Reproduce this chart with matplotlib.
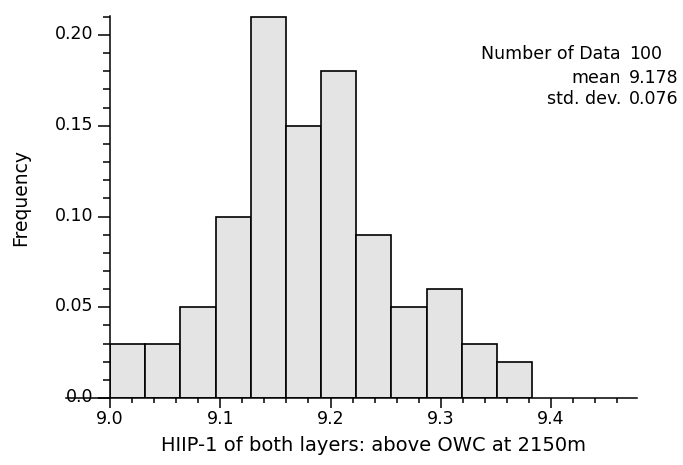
"""
Histogram of HIIP-1 (both layers, above OWC at 2150m) with summary stats.
"""

import numpy as np
import matplotlib
matplotlib.use("Agg")
import matplotlib.pyplot as plt
from matplotlib.ticker import MultipleLocator, FixedLocator, FixedFormatter
from matplotlib.transforms import ScaledTranslation

# histogram data
bin_start = 9.0
bin_width = 0.0319
freqs = [0.03, 0.03, 0.05, 0.10, 0.21, 0.15, 0.18, 0.09, 0.05, 0.06, 0.03, 0.02]

x_ticks = [9.0, 9.1, 9.2, 9.3, 9.4]
x_tick_labels = ["9.0", "9.1", "9.2", "9.3", "9.4"]
y_ticks = [0.0, 0.05, 0.10, 0.15, 0.20]
y_tick_labels = ["0.0", "0.05", "0.10", "0.15", "0.20"]

stat_names = ["Number of Data", "mean", "std. dev."]
stat_values = ["100", "9.178", "0.076"]

plt.rcParams["font.family"] = ["DejaVu Sans"]

W, H = 683, 465
fig = plt.figure(figsize=(W / 100, H / 100), dpi=100)
ax = fig.add_axes([110 / W, 1 - 398 / H, (637 - 110) / W, (398 - 16) / H])

edges = bin_start + bin_width * np.arange(len(freqs) + 1)
ax.bar(edges[:-1], freqs, width=bin_width, align="edge",
       color="#e4e4e4", edgecolor="black", linewidth=1.2)

ax.set_xlim(9.0, 9.478)
ax.set_ylim(0.0, 0.2105)

for side in ("top", "right"):
    ax.spines[side].set_visible(False)
for side in ("left", "bottom"):
    ax.spines[side].set_linewidth(1.1)
# bottom axis line runs on under the "0.0" label
ax.spines["bottom"].set_bounds(8.96, 9.478)

ax.xaxis.set_major_locator(FixedLocator(x_ticks))
ax.xaxis.set_major_formatter(FixedFormatter(x_tick_labels))
ax.xaxis.set_minor_locator(MultipleLocator(0.02))
ax.yaxis.set_major_locator(FixedLocator(y_ticks))
ax.yaxis.set_major_formatter(FixedFormatter(y_tick_labels))
ax.yaxis.set_minor_locator(MultipleLocator(0.01))

ax.tick_params(axis="x", which="major", length=7, width=1.1, pad=1.5, labelsize=12.5)
ax.tick_params(axis="x", which="minor", length=3.6, width=1.1)
ax.tick_params(axis="y", which="major", length=9, width=1.1, pad=3, labelsize=12.5)
ax.tick_params(axis="y", which="minor", length=5.4, width=1.1)

# y labels sit a little above their ticks
for lab in ax.get_yticklabels():
    lab.set_transform(lab.get_transform() + ScaledTranslation(0, 0.03, fig.dpi_scale_trans))

ax.set_xlabel("HIIP-1 of both layers: above OWC at 2150m", fontsize=14)
ax.xaxis.set_label_coords(0.5, -0.1)
ax.set_ylabel("Frequency", fontsize=13.5)
ax.yaxis.set_label_coords(-0.152, 0.526)

# summary statistics block
rows_y = [54, 78, 99]
for name, val, yy in zip(stat_names, stat_values, rows_y):
    fig.text(621 / W, 1 - yy / H, name, ha="right", va="center", fontsize=12.5)
    fig.text(629 / W, 1 - yy / H, val, ha="left", va="center", fontsize=12.5)

fig.savefig("out.png", dpi=100)
